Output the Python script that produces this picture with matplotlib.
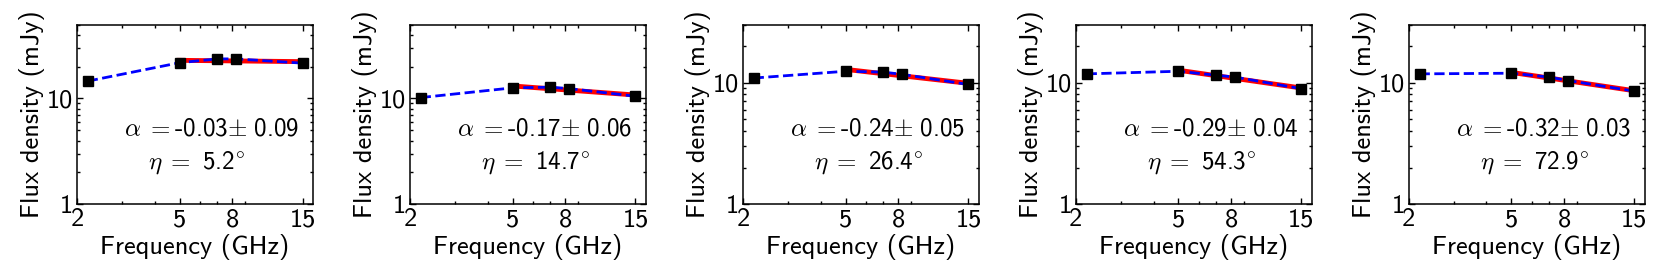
import numpy as np
import matplotlib
matplotlib.use('Agg')
import matplotlib.pyplot as plt
from matplotlib.ticker import FixedLocator, FixedFormatter, LogLocator, NullFormatter

plt.rcParams['mathtext.fontset'] = 'cm'
plt.rcParams['font.family'] = ['cmss10', 'DejaVu Sans']
plt.rcParams['axes.formatter.use_mathtext'] = True
plt.rcParams['axes.unicode_minus'] = False

# observing frequencies (GHz), same for every source
freq = [2.2, 5.0, 7.0, 8.3, 15.0]

# flux densities (mJy)
flux_1 = [14.6, 21.8, 23.7, 23.7, 21.6]
flux_2 = [10.2, 12.6, 12.8, 12.4, 10.5]
flux_3 = [10.9, 12.4, 12.2, 11.7, 9.65]
flux_4 = [11.8, 12.4, 11.5, 11.1, 8.9]
flux_5 = [11.8, 11.95, 11.1, 10.4, 8.5]

alpha = ['-0.03', '-0.17', '-0.24', '-0.29', '-0.32']
alpha_err = ['0.09', '0.06', '0.05', '0.04', '0.03']
eta = ['5.2', '14.7', '26.4', '54.3', '72.9']
ytop = [50, 50, 30, 30, 30]

fluxes = [flux_1, flux_2, flux_3, flux_4, flux_5]

fig, axes = plt.subplots(1, 5, figsize=(16.6, 2.8), dpi=100)
plt.subplots_adjust(left=0.0464, right=0.991, bottom=0.271, top=0.912, wspace=0.41)

for i, ax in enumerate(axes):
    nu = np.array(freq)
    s = np.array(fluxes[i])
    # power-law fit to the high frequency points
    hi = nu >= 5
    p = np.polyfit(np.log10(nu[hi]), np.log10(s[hi]), 1)
    xf = np.array([nu[hi].min(), nu[hi].max()])
    ax.plot(xf, 10 ** np.polyval(p, np.log10(xf)), '-', color='red', lw=3.5, zorder=2)
    ax.plot(nu, s, '--', color='blue', lw=2, zorder=3)
    ax.plot(nu, s, 's', color='black', ms=7.5, zorder=4)

    ax.set_xscale('log')
    ax.set_yscale('log')
    ax.set_xlim(2, 16.5)
    ax.set_ylim(1, ytop[i])
    ax.xaxis.set_major_locator(FixedLocator([2, 5, 8, 15]))
    ax.xaxis.set_major_formatter(FixedFormatter(['2', '5', '8', '15']))
    ax.xaxis.set_minor_locator(LogLocator(base=10, subs=np.arange(2, 10)))
    ax.xaxis.set_minor_formatter(NullFormatter())
    ax.yaxis.set_major_locator(FixedLocator([1, 10]))
    ax.yaxis.set_major_formatter(FixedFormatter(['1', '10']))
    ax.yaxis.set_minor_locator(LogLocator(base=10, subs=np.arange(2, 10)))
    ax.yaxis.set_minor_formatter(NullFormatter())
    ax.tick_params(which='both', direction='in', top=True, right=True, labelsize=19, pad=3)
    ax.tick_params(which='major', length=4.5, width=1)
    ax.tick_params(which='minor', length=2.5, width=1)
    for sp in ax.spines.values():
        sp.set_linewidth(1.1)

    ax.set_xlabel('Frequency (GHz)', fontsize=19, labelpad=2)
    ax.set_ylabel('Flux density (mJy)', fontsize=19, labelpad=1)

    ax.text(0.2, 0.42, r'$\alpha\;=$' + alpha[i] + r'$\pm\ $' + alpha_err[i],
            transform=ax.transAxes, fontsize=18, ha='left', va='center')
    ax.text(0.3, 0.23, r'$\eta\;=\ $' + eta[i] + r'$^{\circ}$',
            transform=ax.transAxes, fontsize=18, ha='left', va='center')

fig.savefig('out.png', dpi=100)
